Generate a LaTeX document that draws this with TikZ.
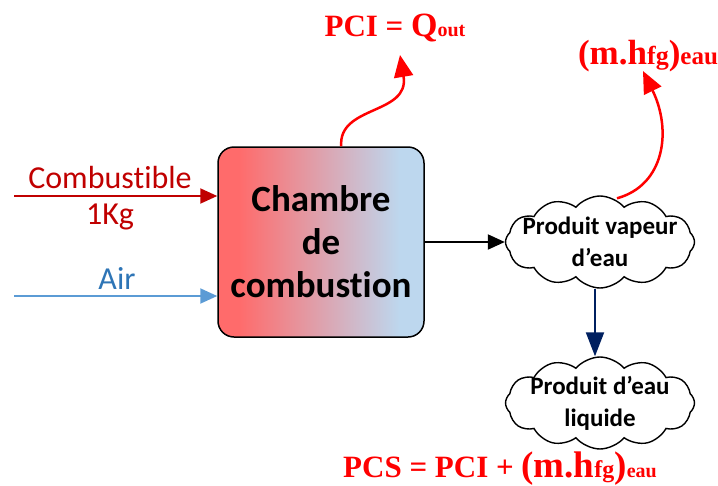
\documentclass[tikz,border=0pt]{standalone}
\usepackage{fontspec}
\setmainfont[Ligatures={NoCommon,NoRare}]{Carlito}
\newfontfamily\tnr{Liberation Serif}
\usetikzlibrary{arrows.meta,shapes.symbols}
\definecolor{cred}{HTML}{FF6B6B}
\definecolor{cblue}{HTML}{BDD7EE}
\definecolor{darkred}{HTML}{C00000}
\definecolor{airline}{HTML}{5B9BD5}
\definecolor{airtext}{HTML}{2E75B6}
\definecolor{navy}{HTML}{002060}
\definecolor{pure}{HTML}{FF0000}
\pgfdeclarehorizontalshading{chshade}{100bp}{color(0bp)=(cred); color(30bp)=(cred); color(69bp)=(cblue); color(100bp)=(cblue)}
\newcommand\mhtop{{\fontsize{35}{35}\selectfont(m.h}{\fontsize{26}{26}\selectfont fg}{\fontsize{35}{35}\selectfont)}{\fontsize{25}{25}\selectfont eau}}
\newcommand\mhbot{{\fontsize{37}{37}\selectfont(m.h}{\fontsize{24}{24}\selectfont fg}{\fontsize{37}{37}\selectfont)}{\fontsize{20}{20}\selectfont eau}}
\tikzset{
  chamber/.style={draw=black, line width=1.5pt, rounded corners=16pt, shading=chshade, minimum width=206pt, minimum height=190pt, align=center, font=\bfseries\fontsize{37}{43}\selectfont, inner sep=0pt},
  cloudbox/.style={cloud, draw=black, line width=1.4pt, fill=white, cloud puffs=12, cloud puff arc=100, aspect=2, minimum width=189pt, minimum height=92pt, inner sep=0pt},
  cloudtext/.style={align=center, inner sep=0pt, font=\bfseries\fontsize{25}{32}\selectfont},
  lbl/.style={font=\fontsize{32}{32}\selectfont, inner sep=0pt},
  eq/.style={text=pure, font=\tnr\bfseries, inner sep=0pt, anchor=base},
  bigtip/.style={-{Triangle[length=22pt,width=19pt]}},
  smalltip/.style={-{Triangle[length=17pt,width=15pt]}},
  navytip/.style={-{Triangle[length=24pt,width=18pt]}}
}
\begin{document}
\begin{tikzpicture}[x=1pt,y=-1pt]
\useasboundingbox (0,0) rectangle (718,485);
\node[chamber] (ch) at (321,242) {Chambre\\de\\combustion};
\node[cloudbox] (c1) at (600,242) {};
\node[cloudtext] (c1t) at (c1.center) {Produit vapeur\\d’eau};
\node[cloudbox] (c2) at (600,403) {};
\node[cloudtext] (c2t) at (c2.center) {Produit d’eau\\liquide};
% inputs
\coordinate (cin) at (14,196);
\coordinate (ain) at (14,296);
\draw[darkred, line width=2pt, smalltip] (cin) -- (ch.west |- cin);
\draw[airline, line width=2pt, smalltip] (ain) -- (ch.west |- ain);
\node[lbl, text=darkred] (lcomb) at (110,178) {Combustible};
\node[lbl, text=darkred] (lkg) at (110,217) {1Kg};
\node[lbl, text=airtext] (lair) at (117,278) {Air};
% outputs
\draw[black, line width=2pt, smalltip] (ch.east) -- (c1.west);
\draw[navy, line width=2pt, navytip] ([xshift=-5pt]c1.south) -- ([xshift=-5pt]c2.north);
\coordinate (pcitip) at (400,55);
\coordinate (hfgtip) at (643,71);
\draw[pure, line width=2.5pt, bigtip] ([xshift=124pt]ch.north west) .. controls (338,105) and (410,115) .. (pcitip);
\draw[pure, line width=2.5pt, bigtip] ([xshift=17pt,yshift=-3pt]c1.north) .. controls (665,185) and (672,130) .. (hfgtip);
% equations
\node[eq] (pci) at (395,36) {{\fontsize{31}{31}\selectfont PCI = }{\fontsize{34}{34}\selectfont Q}{\fontsize{20}{20}\selectfont out}};
\node[eq] (hfg) at (648,64) {\mhtop};
\node[eq] (pcs) at (500,477) {{\fontsize{31}{31}\selectfont PCS = PCI + }\mhbot};
\end{tikzpicture}
\end{document}
